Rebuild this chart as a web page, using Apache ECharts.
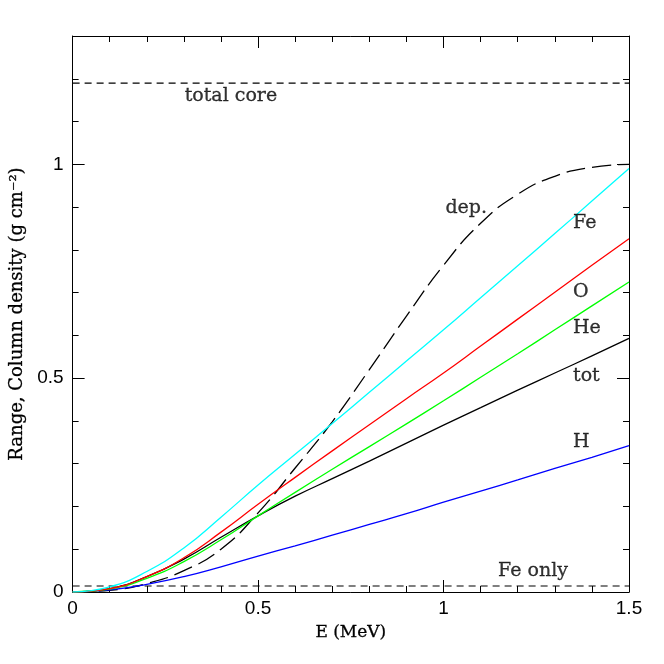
<!DOCTYPE html>
<html>
<head>
<meta charset="utf-8">
<script src="https://cdn.jsdelivr.net/npm/echarts@6/dist/echarts.min.js"></script>
<style>
  html, body { margin: 0; padding: 0; background: #fff; }
  #main { width: 664px; height: 664px; }
</style>
</head>
<body>
<div id="main"></div>
<script>
// energy grid (MeV) and ranges (g cm^-2)
var energy = [0, 0.1, 0.2, 0.3, 0.4, 0.5, 0.6, 0.7, 0.8, 0.9, 1.0, 1.1, 1.2, 1.3, 1.4, 1.5];
var rangeFe  = [0, 0.012, 0.048, 0.103, 0.175, 0.25, 0.322, 0.394, 0.467, 0.54, 0.613, 0.688, 0.763, 0.838, 0.914, 0.99];
var rangeO   = [0, 0.008, 0.036, 0.08, 0.14, 0.205, 0.268, 0.33, 0.391, 0.452, 0.512, 0.575, 0.638, 0.701, 0.764, 0.826];
var rangeHe  = [0, 0.007, 0.032, 0.071, 0.122, 0.178, 0.233, 0.287, 0.34, 0.393, 0.447, 0.502, 0.557, 0.613, 0.669, 0.725];
var rangeTot = [0, 0.008, 0.036, 0.077, 0.128, 0.178, 0.224, 0.265, 0.306, 0.348, 0.39, 0.431, 0.472, 0.512, 0.552, 0.593];
var rangeH   = [0, 0.005, 0.018, 0.036, 0.059, 0.084, 0.108, 0.133, 0.158, 0.183, 0.21, 0.236, 0.262, 0.289, 0.315, 0.342];
var deposit  = [0, 0.004, 0.02, 0.05, 0.1, 0.185, 0.29, 0.398, 0.52, 0.645, 0.764, 0.862, 0.93, 0.972, 0.993, 1.0];

var totalCore = 1.19;
var feOnly = 0.014;
var xMax = 1.5;

var xTicks = [0, 0.5, 1, 1.5];
var yTicks = [0, 0.5, 1];

// text labels: [x, y, text]
var curveLabels = [
    [1.349, 0.862, 'Fe'],
    [1.349, 0.701, 'O'],
    [1.349, 0.617, 'He'],
    [1.349, 0.505, 'tot'],
    [1.349, 0.350, 'H'],
    [1.005, 0.897, 'dep.'],
    [0.302, 1.159, 'total core'],
    [1.147, 0.049, 'Fe only']
];

function pairs(ys) {
    return energy.map(function (x, i) { return [x, ys[i]]; });
}

var serif = 'DejaVu Serif';
var sans = 'Liberation Sans';

function xAx(pos, major, labels) {
    return {
        type: 'value', position: pos, min: 0, max: xMax,
        interval: major ? 0.5 : 0.1,
        axisLine: { show: major, onZero: false, lineStyle: { color: '#000', width: 1 } },
        axisTick: { show: true, inside: true, length: major ? 12 : 6, lineStyle: { color: '#000', width: 1 } },
        axisLabel: {
            show: labels, margin: 7, color: '#000', fontFamily: sans, fontSize: 19,
            formatter: function (v) { return xTicks.indexOf(v) >= 0 ? String(v) : ''; }
        },
        splitLine: { show: false },
        name: labels ? 'E (MeV)' : '', nameLocation: 'middle', nameGap: 32,
        nameTextStyle: { color: '#000', fontFamily: serif, fontSize: 17, textBorderColor: '#000', textBorderWidth: 0.3 }
    };
}

function yAx(pos, major, labels) {
    return {
        type: 'value', position: pos, min: 0, max: 1.3,
        interval: major ? 0.5 : 0.1,
        axisLine: { show: major, onZero: false, lineStyle: { color: '#000', width: 1 } },
        axisTick: { show: true, inside: true, length: major ? 12 : 6, lineStyle: { color: '#000', width: 1 } },
        axisLabel: {
            show: labels, margin: 9, color: '#000', fontFamily: sans, fontSize: 19,
            showMaxLabel: false,
            formatter: function (v) { return yTicks.indexOf(v) >= 0 ? String(v) : ''; }
        },
        splitLine: { show: false },
        name: labels ? 'Range, Column density (g cm⁻²)' : '', nameLocation: 'middle', nameGap: 44, nameRotate: 90,
        nameTextStyle: { color: '#000', fontFamily: serif, fontSize: 18, textBorderColor: '#000', textBorderWidth: 0.3 }
    };
}

function curve(name, ys, color, dash) {
    return {
        name: name, type: 'line', data: pairs(ys), smooth: true,
        showSymbol: false, symbol: 'none', silent: true,
        lineStyle: { color: color, width: 1.3, type: dash || 'solid' },
        z: 3
    };
}

function hline(y, dash) {
    return {
        type: 'line', data: [[0, y], [xMax, y]], showSymbol: false, symbol: 'none', silent: true,
        lineStyle: { color: '#000', width: 1.2, type: dash }, z: 3
    };
}

var dom = document.getElementById('main');
var myChart = echarts.init(dom, null, { renderer: 'canvas' });

var option = {
    animation: false,
    backgroundColor: '#fff',
    grid: { left: 72, right: 35, top: 36, bottom: 72, containLabel: false },
    xAxis: [
        xAx('bottom', true, true),
        xAx('bottom', false, false),
        xAx('top', true, false),
        xAx('top', false, false)
    ],
    yAxis: [
        yAx('left', true, true),
        yAx('left', false, false),
        yAx('right', true, false),
        yAx('right', false, false)
    ],
    series: [
        hline(totalCore, [7, 5]),
        hline(feOnly, [7, 5]),
        curve('dep.', deposit, '#000', [19, 7]),
        curve('H', rangeH, '#0000ff'),
        curve('tot', rangeTot, '#000'),
        curve('He', rangeHe, '#00ff00'),
        curve('O', rangeO, '#ff0000'),
        curve('Fe', rangeFe, '#00ffff'),
        {
            type: 'scatter', symbolSize: 0, silent: true, z: 5,
            data: curveLabels.map(function (d) { return { value: [d[0], d[1]], name: d[2] }; }),
            label: {
                show: true, position: 'right', distance: 0,
                formatter: function (p) { return p.name; },
                color: '#000', fontFamily: serif, fontSize: 19,
                textBorderColor: '#000', textBorderWidth: 0.3
            }
        }
    ]
};

if (option && typeof option === 'object') {
    myChart.setOption(option);
}
window.addEventListener('resize', myChart.resize);
</script>
</body>
</html>
